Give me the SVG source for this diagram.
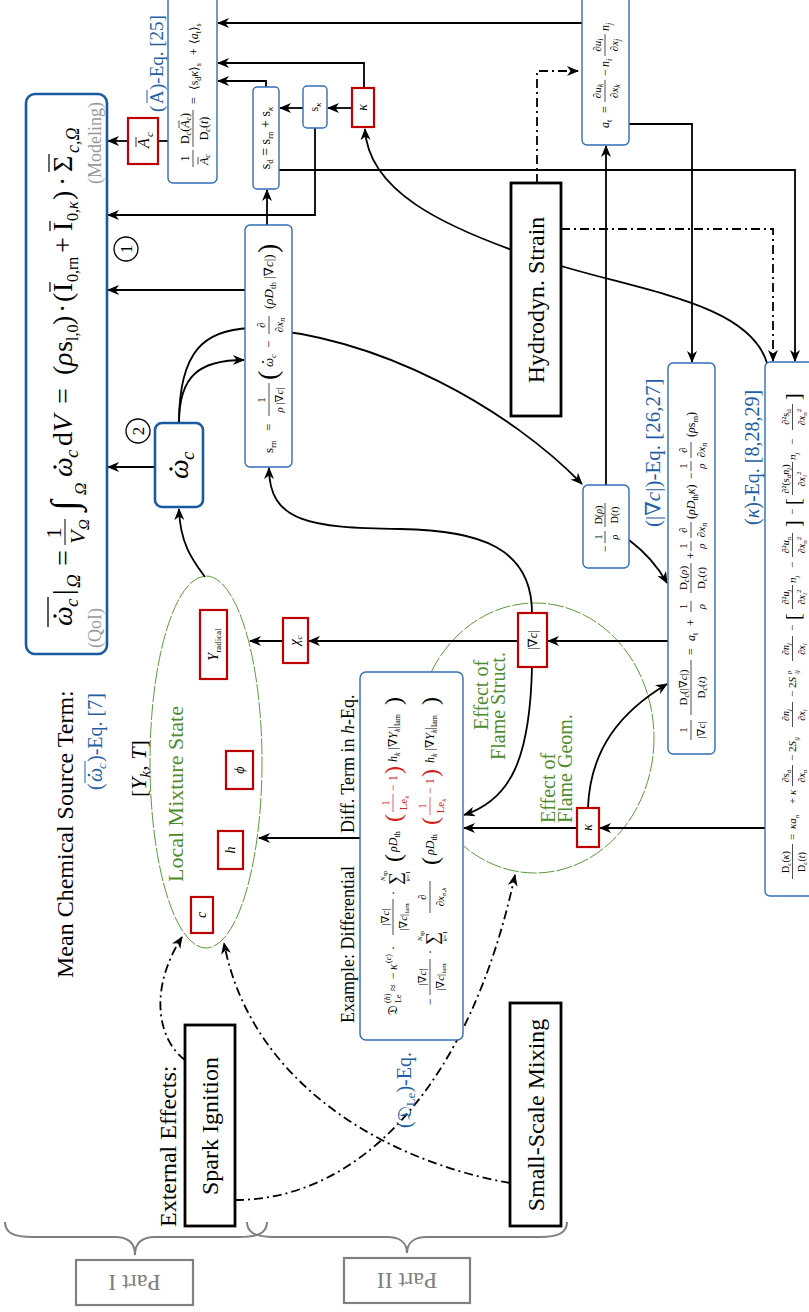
<svg xmlns="http://www.w3.org/2000/svg" width="809" height="1312" viewBox="0 0 809 1312">
<defs>
<marker id="ah" viewBox="0 0 12 10" refX="11" refY="5" markerWidth="12" markerHeight="10" markerUnits="userSpaceOnUse" orient="auto"><path d="M0,0 L12,5 L0,10 L3.5,5 z" fill="#000"/></marker>
<style>
text{font-family:"Liberation Serif","DejaVu Serif",serif;fill:#000}
.i{font-style:italic}
.blue{fill:#1f5fa6}
.gray{fill:#9a9a9a}
.green{fill:#4d8b2f}
.red{fill:#d42020}
.bx{fill:#fff;stroke:#2f6fb5;stroke-width:1.4}
.bxt{fill:#fff;stroke:#1b59a2;stroke-width:2.6}
.rb{fill:#fff;stroke:#c00000;stroke-width:2.2}
.kb{fill:#fff;stroke:#000;stroke-width:2.8}
.c{fill:none;stroke:#000;stroke-width:1.8}
.a{marker-end:url(#ah)}
.dd{stroke-dasharray:9 4 2 4}
.ell{fill:none;stroke:#5b9a3c;stroke-width:1;stroke-dasharray:16 2}
.fr{stroke:#000;stroke-width:0.7}
.frr{stroke:#d42020;stroke-width:0.7}
.brace{fill:none;stroke:#808080;stroke-width:2}
.pb{fill:#fff;stroke:#808080;stroke-width:2.2}
</style>
</defs>
<rect x="0" y="0" width="809" height="1312" fill="#fff"/>

<!-- ellipses -->
<g id="ellipse-mixture"><ellipse class="ell" cx="206" cy="762" rx="56" ry="186"/></g>
<g id="ellipse-flame"><ellipse class="ell" cx="535" cy="738" rx="119" ry="135"/></g>

<g id="connectors">
<path class="c" d="M168,141 H158"/>
<path class="c a" d="M128,141 H108"/>
<path class="c a" d="M582,23 H218"/>
<path class="c a" d="M364,88 V63 H218"/>
<path class="c a" d="M266,87 V81 H218"/>
<path class="c a" d="M352,108 H328"/>
<path class="c a" d="M303,108 H280"/>
<path class="c a" d="M315,128 V215 H108"/>
<path class="c a" d="M267,225 V190"/>
<path class="c a" d="M245,290 H108"/>
<path class="c a" d="M155,467 H108"/>
<path class="c a" d="M205,577 C194,562 180,545 179,509"/>
<path class="c a" d="M179,423 C179,375 200,360 244,360"/>
<path class="c a" d="M179,423 C179,350 205,330 250,328 C380,335 510,410 582,484"/>
<path class="c a" d="M606,485 V146"/>
<path class="c a" d="M629,540 C645,552 657,565 667,583"/>
<path class="c a" d="M629,124 H692 V362"/>
<path class="c a" d="M279,170 H795 V361"/>
<path class="c a dd" d="M537,183 V71 H578"/>
<path class="c a dd" d="M561,229 H773 V361"/>
<path class="c a" d="M767,363 C748,300 630,290 535,258 C440,226 368,190 365,129"/>
<path class="c a" d="M668,641 H548"/>
<path class="c a" d="M518,641 H309"/>
<path class="c a" d="M283,641 H250"/>
<path class="c a" d="M532,613 C532,548 480,530 400,529 C310,528 269,522 269,468"/>
<path class="c a" d="M532,667 C530,760 510,800 464,815"/>
<path class="c a" d="M765,828 H600"/>
<path class="c a" d="M577,828 H464"/>
<path class="c a" d="M588,808 C590,750 620,712 667,684"/>
<path class="c a" d="M360,838 H259"/>
<path class="c a dd" d="M185,1060 C158,1040 148,990 182,937"/>
<path class="c a dd" d="M235,1200 C360,1200 470,1085 515,875"/>
<path class="c a dd" d="M510,1183 C380,1160 250,1080 224,943"/>
</g>

<!-- QoI -->
<g id="n-qoi">
<rect class="bxt" x="26" y="94" width="81" height="560" rx="9"/>
<g transform="translate(72,628) rotate(-90)">
<text x="2" y="0" font-size="28" class="i">ω</text>
<circle cx="12" cy="-17" r="1.7"/>
<text x="21" y="6" font-size="19" class="i">c</text>
<line x1="1" y1="-24" x2="31" y2="-24" stroke="#000" stroke-width="1.3"/>
<text x="33" y="0" font-size="28">|</text>
<text x="40" y="8" font-size="19" class="i">Ω</text>
<text x="62" y="0" font-size="28">=</text>
<text x="95" y="-11" font-size="22" text-anchor="middle">1</text>
<line x1="83" y1="-7" x2="109" y2="-7" stroke="#000" stroke-width="1"/>
<text x="84" y="13" font-size="22" class="i">V</text>
<text x="98" y="17" font-size="15" class="i">Ω</text>
<text x="117" y="5" font-size="38" class="i">∫</text>
<text x="133" y="14" font-size="17" class="i">Ω</text>
<text x="151" y="0" font-size="28" class="i">ω</text>
<circle cx="161" cy="-17" r="1.7"/>
<text x="170" y="6" font-size="19" class="i">c</text>
<text x="182" y="0" font-size="28">d</text>
<text x="196" y="0" font-size="28" class="i">V</text>
<text x="224" y="0" font-size="28">=</text>
<text x="253" y="0" font-size="28">(</text>
<text x="262" y="0" font-size="28" class="i">ρ</text>
<text x="276" y="0" font-size="28">s</text>
<text x="287" y="6" font-size="16">l,0</text>
<text x="303" y="0" font-size="28">)</text>
<text x="315" y="0" font-size="28">·</text>
<text x="326" y="0" font-size="28">(</text>
<text x="336" y="0" font-size="28">I</text>
<line x1="336" y1="-22" x2="346" y2="-22" stroke="#000" stroke-width="1.2"/>
<text x="346" y="6" font-size="16">0,rn</text>
<text x="375" y="0" font-size="28">+</text>
<text x="397" y="0" font-size="28">I</text>
<line x1="397" y1="-22" x2="407" y2="-22" stroke="#000" stroke-width="1.2"/>
<text x="407" y="6" font-size="16">0,<tspan class="i">κ</tspan></text>
<text x="428" y="0" font-size="28">)</text>
<text x="442" y="0" font-size="28">·</text>
<text x="456" y="0" font-size="28">Σ</text>
<line x1="456" y1="-23" x2="474" y2="-23" stroke="#000" stroke-width="1.2"/>
<text x="475" y="7" font-size="18" class="i">c,Ω</text>
</g>
<text transform="translate(101,628) rotate(-90)" text-anchor="middle" font-size="18" class="gray">(QoI)</text>
<text transform="translate(101,143) rotate(-90)" text-anchor="middle" font-size="18" class="gray">(Modeling)</text>
</g>

<g id="circle-1"><circle cx="126" cy="249" r="12" fill="#fff" stroke="#000" stroke-width="1.3"/><text transform="translate(132,249) rotate(-90)" text-anchor="middle" font-size="17">1</text></g>
<g id="circle-2"><circle cx="138" cy="431" r="12" fill="#fff" stroke="#000" stroke-width="1.3"/><text transform="translate(144,431) rotate(-90)" text-anchor="middle" font-size="17">2</text></g>

<!-- omega dot box -->
<g id="n-omega">
<rect class="bxt" x="155" y="423" width="48" height="84" rx="7"/>
<g transform="translate(188,465) rotate(-90)">
<text x="-14" y="0" font-size="28" class="i">ω</text>
<circle cx="-4" cy="-17" r="1.7"/>
<text x="5" y="6" font-size="19" class="i">c</text>
</g>
</g>

<!-- A_c red -->
<g id="n-Ac">
<rect class="rb" x="128" y="118" width="30" height="46"/>
<g transform="translate(149,141) rotate(-90)">
<text x="-7" y="0" font-size="16" class="i">A</text>
<line x1="-6" y1="-13" x2="4" y2="-13" stroke="#000" stroke-width="0.8"/>
<text x="4" y="4" font-size="11" class="i">c</text>
</g>
</g>

<!-- A-Eq box -->
<g id="n-Aeq">
<rect class="bx" x="168" y="-10" width="49" height="193" rx="5"/>
<g transform="translate(198,168) rotate(-90)">
<text x="9.5" y="-9" text-anchor="middle" font-size="12">1</text>
<line x1="1" y1="-5" x2="18" y2="-5" class="fr"/>
<text x="3" y="10" font-size="12" class="i">A<tspan dy="2" font-size="8">c</tspan></text>
<line x1="3.5" y1="0" x2="11" y2="0" class="fr"/>
<text x="39.5" y="-9" font-size="12" text-anchor="middle">D<tspan dy="2" font-size="8" class="i">c</tspan><tspan dy="-2">(</tspan><tspan class="i">A</tspan><tspan dy="2" font-size="8" class="i">c</tspan><tspan dy="-2">)</tspan></text>
<line x1="40" y1="-19" x2="47.5" y2="-19" class="fr"/>
<line x1="21" y1="-5" x2="58" y2="-5" class="fr"/>
<text x="39.5" y="10" font-size="12" text-anchor="middle">D<tspan dy="2" font-size="8" class="i">c</tspan><tspan dy="-2">(</tspan><tspan class="i">t</tspan>)</text>
<text x="64" y="0" font-size="12">=</text>
<text x="78" y="0" font-size="12">⟨s<tspan dy="2.5" font-size="8">d</tspan><tspan dy="-2.5" class="i">κ</tspan>⟩<tspan dy="2.5" font-size="8">s</tspan></text>
<text x="113" y="0" font-size="12">+</text>
<text x="124" y="0" font-size="12">⟨<tspan class="i">a</tspan><tspan dy="2.5" font-size="8">t</tspan><tspan dy="-2.5">⟩</tspan><tspan dy="2.5" font-size="8">s</tspan></text>
</g>
<g transform="translate(163,112) rotate(-90)">
<text x="0" y="0" font-size="19" class="blue">(</text>
<text x="8" y="0" font-size="19" class="blue">A</text>
<line x1="9" y1="-16" x2="22" y2="-16" stroke="#1f5fa6" stroke-width="1"/>
<text x="22" y="0" font-size="19" class="blue">)-Eq. [25]</text>
</g>
</g>

<!-- a_t box -->
<g id="n-at">
<rect class="bx" x="582" y="-10" width="47" height="155" rx="5"/>
<g transform="translate(609,128) rotate(-90)">
<text x="0" y="0" font-size="12" class="i">a<tspan dy="3" font-size="8" font-style="normal">t</tspan></text>
<text x="15" y="0" font-size="12">=</text>
<text x="37" y="-8" font-size="11" text-anchor="middle">∂<tspan class="i">u</tspan><tspan dy="2" font-size="8" class="i">k</tspan></text>
<line x1="26" y1="-4" x2="48" y2="-4" class="fr"/>
<text x="37" y="9" font-size="11" text-anchor="middle">∂<tspan class="i">x</tspan><tspan dy="2" font-size="8" class="i">k</tspan></text>
<text x="52" y="0" font-size="12">−</text>
<text x="61" y="0" font-size="12" class="i">n<tspan dy="3" font-size="8">i</tspan></text>
<text x="83" y="-8" font-size="11" text-anchor="middle">∂<tspan class="i">u</tspan><tspan dy="2" font-size="8" class="i">i</tspan></text>
<line x1="72" y1="-4" x2="94" y2="-4" class="fr"/>
<text x="83" y="9" font-size="11" text-anchor="middle">∂<tspan class="i">x</tspan><tspan dy="2" font-size="8" class="i">j</tspan></text>
<text x="97" y="0" font-size="12" class="i">n<tspan dy="3" font-size="8">j</tspan></text>
</g>
</g>

<!-- s_d, s_kappa, kappa -->
<g id="n-sd">
<rect class="bx" x="253" y="87" width="26" height="102" rx="4"/>
<text transform="translate(270,138) rotate(-90)" text-anchor="middle" font-size="14">s<tspan dy="3" font-size="9">d</tspan><tspan dy="-3"> = s</tspan><tspan dy="3" font-size="9">rn</tspan><tspan dy="-3"> + s</tspan><tspan dy="3" font-size="9" class="i">κ</tspan></text>
</g>
<g id="n-skappa">
<rect class="bx" x="303" y="86" width="24" height="42" rx="4"/>
<text transform="translate(318,107) rotate(-90)" text-anchor="middle" font-size="12">s<tspan dy="3" font-size="9" class="i">κ</tspan></text>
</g>
<g id="n-kappa-top">
<rect class="rb" x="352" y="88" width="22" height="39"/>
<text transform="translate(367,107.5) rotate(-90)" text-anchor="middle" font-size="14" class="i">κ</text>
</g>

<!-- s_rn box -->
<g id="n-srn">
<rect class="bx" x="245" y="225" width="47" height="242" rx="5"/>
<g transform="translate(273,453) rotate(-90)">
<text x="0" y="0" font-size="13">s<tspan dy="3" font-size="9">rn</tspan></text>
<text x="22" y="0" font-size="13">=</text>
<text x="53" y="-8" font-size="11" text-anchor="middle">1</text>
<line x1="37" y1="-4" x2="70" y2="-4" class="fr"/>
<text x="53" y="10" font-size="11" text-anchor="middle"><tspan class="i">ρ</tspan> |∇<tspan class="i">c</tspan>|</text>
<text x="73" y="4" font-size="28">(</text>
<text x="86" y="0" font-size="13" class="i">ω</text>
<circle cx="91" cy="-10" r="1"/>
<text x="95" y="3" font-size="9" class="i">c</text>
<text x="105" y="0" font-size="13">−</text>
<text x="128" y="-8" font-size="11" text-anchor="middle">∂</text>
<line x1="119" y1="-4" x2="137" y2="-4" class="fr"/>
<text x="128" y="10" font-size="11" text-anchor="middle">∂<tspan class="i">x</tspan><tspan dy="2" font-size="8" class="i">n</tspan></text>
<text x="144" y="0" font-size="13">(<tspan class="i">ρD</tspan><tspan dy="3" font-size="9">th</tspan><tspan dy="-3"> |∇</tspan><tspan class="i">c</tspan>|)</text>
<text x="200" y="4" font-size="28">)</text>
</g>
</g>

<!-- D(rho) box -->
<g id="n-Drho">
<rect class="bx" x="583" y="485" width="46" height="83" rx="5"/>
<g transform="translate(609,552) rotate(-90)">
<text x="0" y="0" font-size="12">−</text>
<text x="15" y="-7" font-size="10" text-anchor="middle">1</text>
<line x1="9" y1="-4" x2="21" y2="-4" class="fr"/>
<text x="15" y="9" font-size="10" text-anchor="middle" class="i">ρ</text>
<text x="37" y="-7" font-size="10" text-anchor="middle">D(<tspan class="i">ρ</tspan>)</text>
<line x1="25" y1="-4" x2="49" y2="-4" class="fr"/>
<text x="37" y="9" font-size="10" text-anchor="middle">D(<tspan class="i">t</tspan>)</text>
</g>
</g>

<!-- grad c equation box -->
<g id="n-gradc-eq">
<rect class="bx" x="668" y="363" width="47" height="391" rx="5"/>
<g transform="translate(695,742) rotate(-90)">
<text x="12" y="-8" font-size="11" text-anchor="middle">1</text>
<line x1="2" y1="-4" x2="22" y2="-4" class="fr"/>
<text x="12" y="10" font-size="11" text-anchor="middle">|∇<tspan class="i">c</tspan>|</text>
<text x="54.5" y="-8" font-size="11" text-anchor="middle">D<tspan dy="2" font-size="8" class="i">c</tspan><tspan dy="-2">(|∇</tspan><tspan class="i">c</tspan>|)</text>
<line x1="27" y1="-4" x2="82" y2="-4" class="fr"/>
<text x="54.5" y="10" font-size="11" text-anchor="middle">D<tspan dy="2" font-size="8" class="i">c</tspan><tspan dy="-2">(</tspan><tspan class="i">t</tspan>)</text>
<text x="87" y="0" font-size="12">=</text>
<text x="101" y="0" font-size="12" class="i">a<tspan dy="3" font-size="8" font-style="normal">t</tspan></text>
<text x="116" y="0" font-size="12">+</text>
<text x="135.5" y="-8" font-size="11" text-anchor="middle">1</text>
<line x1="130" y1="-4" x2="141" y2="-4" class="fr"/>
<text x="135.5" y="10" font-size="11" text-anchor="middle" class="i">ρ</text>
<text x="164" y="-8" font-size="11" text-anchor="middle">D<tspan dy="2" font-size="8" class="i">c</tspan><tspan dy="-2">(</tspan><tspan class="i">ρ</tspan>)</text>
<line x1="149" y1="-4" x2="179" y2="-4" class="fr"/>
<text x="164" y="10" font-size="11" text-anchor="middle">D<tspan dy="2" font-size="8" class="i">c</tspan><tspan dy="-2">(</tspan><tspan class="i">t</tspan>)</text>
<text x="183" y="0" font-size="12">+</text>
<text x="196" y="-8" font-size="11" text-anchor="middle">1</text>
<line x1="191" y1="-4" x2="201" y2="-4" class="fr"/>
<text x="196" y="10" font-size="11" text-anchor="middle" class="i">ρ</text>
<text x="212" y="-8" font-size="11" text-anchor="middle">∂</text>
<line x1="204" y1="-4" x2="220" y2="-4" class="fr"/>
<text x="212" y="10" font-size="11" text-anchor="middle">∂<tspan class="i">x</tspan><tspan dy="2" font-size="8" class="i">n</tspan></text>
<text x="223" y="0" font-size="12">(<tspan class="i">ρD</tspan><tspan dy="3" font-size="8">th</tspan><tspan dy="-3" class="i">κ</tspan>)</text>
<text x="263" y="0" font-size="12">−</text>
<text x="276" y="-8" font-size="11" text-anchor="middle">1</text>
<line x1="271" y1="-4" x2="281" y2="-4" class="fr"/>
<text x="276" y="10" font-size="11" text-anchor="middle" class="i">ρ</text>
<text x="292" y="-8" font-size="11" text-anchor="middle">∂</text>
<line x1="284" y1="-4" x2="300" y2="-4" class="fr"/>
<text x="292" y="10" font-size="11" text-anchor="middle">∂<tspan class="i">x</tspan><tspan dy="2" font-size="8" class="i">n</tspan></text>
<text x="305" y="0" font-size="12">(<tspan class="i">ρ</tspan>s<tspan dy="3" font-size="8">rn</tspan><tspan dy="-3">)</tspan></text>
</g>
<text transform="translate(660,527) rotate(-90)" font-size="21" class="blue">(|∇<tspan class="i">c</tspan>|)-Eq. [26,27]</text>
</g>

<!-- kappa equation box -->
<g id="n-kappa-eq">
<rect class="bx" x="765" y="362" width="56" height="534" rx="5"/>
<g transform="translate(796,882) rotate(-90)">
<text x="20" y="-7" font-size="10" text-anchor="middle">D<tspan dy="2" font-size="7" class="i">c</tspan><tspan dy="-2">(</tspan><tspan class="i">κ</tspan>)</text>
<line x1="3" y1="-3.5" x2="38" y2="-3.5" class="fr"/>
<text x="20" y="9" font-size="10" text-anchor="middle">D<tspan dy="2" font-size="7" class="i">c</tspan><tspan dy="-2">(</tspan><tspan class="i">t</tspan>)</text>
<text x="42" y="0" font-size="11">=</text>
<text x="53" y="0" font-size="11" class="i">κa<tspan dy="3" font-size="7" font-style="normal">n</tspan></text>
<text x="78" y="0" font-size="11">+</text>
<text x="87" y="0" font-size="11" class="i">κ</text>
<text x="106" y="-7" font-size="10" text-anchor="middle">∂s<tspan dy="2" font-size="7">d</tspan></text>
<line x1="96" y1="-3.5" x2="117" y2="-3.5" class="fr"/>
<text x="106" y="9" font-size="10" text-anchor="middle">∂<tspan class="i">x</tspan><tspan dy="2" font-size="7">n</tspan></text>
<text x="121" y="0" font-size="11">−</text>
<text x="130" y="0" font-size="11">2<tspan class="i">S</tspan><tspan dy="3" font-size="7" class="i">ij</tspan></text>
<text x="167" y="-7" font-size="10" text-anchor="middle">∂<tspan class="i">n</tspan><tspan dy="2" font-size="7" class="i">j</tspan></text>
<line x1="155" y1="-3.5" x2="180" y2="-3.5" class="fr"/>
<text x="167" y="9" font-size="10" text-anchor="middle">∂<tspan class="i">x</tspan><tspan dy="2" font-size="7" class="i">i</tspan></text>
<text x="185" y="0" font-size="11">−</text>
<text x="194" y="0" font-size="11">2<tspan class="i">S</tspan></text>
<text x="208" y="-5" font-size="7">p</text>
<text x="208" y="3" font-size="7" class="i">ij</text>
<text x="233" y="-7" font-size="10" text-anchor="middle">∂<tspan class="i">n</tspan><tspan dy="2" font-size="7" class="i">j</tspan></text>
<line x1="221" y1="-3.5" x2="246" y2="-3.5" class="fr"/>
<text x="233" y="9" font-size="10" text-anchor="middle">∂<tspan class="i">x</tspan><tspan dy="2" font-size="7" class="i">i</tspan></text>
<text x="251" y="0" font-size="11">−</text>
<text x="262" y="4" font-size="20">[</text>
<text x="285" y="-7" font-size="10" text-anchor="middle">∂²<tspan class="i">u</tspan><tspan dy="2" font-size="7" class="i">j</tspan></text>
<line x1="273" y1="-3.5" x2="297" y2="-3.5" class="fr"/>
<text x="285" y="9" font-size="10" text-anchor="middle">∂<tspan class="i">x</tspan><tspan dy="2" font-size="7" class="i">i</tspan><tspan dy="-6" font-size="7">2</tspan></text>
<text x="299" y="0" font-size="11" class="i">n<tspan dy="3" font-size="7">j</tspan></text>
<text x="314" y="0" font-size="11">−</text>
<text x="337" y="-7" font-size="10" text-anchor="middle">∂²<tspan class="i">u</tspan><tspan dy="2" font-size="7">n</tspan></text>
<line x1="325" y1="-3.5" x2="349" y2="-3.5" class="fr"/>
<text x="337" y="9" font-size="10" text-anchor="middle">∂<tspan class="i">x</tspan><tspan dy="2" font-size="7">n</tspan><tspan dy="-6" font-size="7">2</tspan></text>
<text x="355" y="4" font-size="20">]</text>
<text x="367" y="0" font-size="11">−</text>
<text x="377" y="4" font-size="20">[</text>
<text x="403" y="-7" font-size="10" text-anchor="middle">∂²(s<tspan dy="2" font-size="7">d</tspan><tspan dy="-2" class="i">n</tspan><tspan dy="2" font-size="7" class="i">j</tspan><tspan dy="-2">)</tspan></text>
<line x1="387" y1="-3.5" x2="420" y2="-3.5" class="fr"/>
<text x="403" y="9" font-size="10" text-anchor="middle">∂<tspan class="i">x</tspan><tspan dy="2" font-size="7" class="i">i</tspan><tspan dy="-6" font-size="7">2</tspan></text>
<text x="422" y="0" font-size="11" class="i">n<tspan dy="3" font-size="7">j</tspan></text>
<text x="437" y="0" font-size="11">−</text>
<text x="465" y="-7" font-size="10" text-anchor="middle">∂²s<tspan dy="2" font-size="7">d</tspan></text>
<line x1="452" y1="-3.5" x2="478" y2="-3.5" class="fr"/>
<text x="465" y="9" font-size="10" text-anchor="middle">∂<tspan class="i">x</tspan><tspan dy="2" font-size="7">n</tspan><tspan dy="-6" font-size="7">2</tspan></text>
<text x="482" y="4" font-size="20">]</text>
</g>
<text transform="translate(759,525) rotate(-90)" font-size="20" class="blue">(<tspan class="i">κ</tspan>)-Eq. [8,28,29]</text>
</g>

<!-- Le box -->
<g id="n-Le">
<rect class="bx" x="360" y="672" width="103" height="368" rx="6"/>
<g transform="translate(397,1015) rotate(-90)">
<text x="0" y="0" font-size="13">𝔇</text>
<text x="12" y="-7" font-size="8">(<tspan class="i">h</tspan>)</text>
<text x="12" y="4" font-size="8">Le</text>
<text x="24" y="0" font-size="12">≈</text>
<text x="36" y="0" font-size="12">−</text>
<text x="45" y="0" font-size="12" class="i">κ</text>
<text x="52" y="-6" font-size="8">(<tspan class="i">c</tspan>)</text>
<text x="65" y="0" font-size="12">·</text>
<text x="98" y="-8" font-size="11" text-anchor="middle">|∇<tspan class="i">c</tspan>|</text>
<line x1="80" y1="-4" x2="116" y2="-4" class="fr"/>
<text x="98" y="10" font-size="11" text-anchor="middle">|∇<tspan class="i">c</tspan>|<tspan dy="2" font-size="7">lam</tspan></text>
<text x="120" y="0" font-size="12">·</text>
<text x="130" y="4" font-size="18">∑</text>
<text x="139" y="-12" font-size="7" text-anchor="middle" class="i">N<tspan font-style="normal" dy="1.5" font-size="6">sp</tspan></text>
<text x="139" y="13" font-size="7" text-anchor="middle"><tspan class="i">k</tspan>=1</text>
<text x="153" y="4" font-size="24">(</text>
<text x="163" y="0" font-size="12" class="i">ρD<tspan dy="3" font-size="8" font-style="normal">th</tspan></text>
<text x="193" y="4" font-size="24" class="red">(</text>
<text x="212" y="-8" font-size="11" text-anchor="middle" class="red">1</text>
<line x1="203" y1="-4" x2="221" y2="-4" class="frr"/>
<text x="212" y="10" font-size="11" text-anchor="middle" class="red">Le<tspan dy="2" font-size="7" class="i">k</tspan></text>
<text x="224" y="0" font-size="12" class="red">− 1</text>
<text x="241" y="4" font-size="24" class="red">)</text>
<text x="253" y="0" font-size="12"><tspan class="i">h</tspan><tspan dy="3" font-size="8" class="i">k</tspan><tspan dy="-3"> |∇</tspan><tspan class="i">Y</tspan><tspan dy="3" font-size="8" class="i">k</tspan><tspan dy="-3">|</tspan><tspan dy="3" font-size="8">lam</tspan></text>
<text x="310" y="4" font-size="24">)</text>
</g>
<g transform="translate(434,1005) rotate(-90)">
<text x="0" y="0" font-size="12">−</text>
<text x="28" y="-8" font-size="11" text-anchor="middle">|∇<tspan class="i">c</tspan>|</text>
<line x1="10" y1="-4" x2="46" y2="-4" class="fr"/>
<text x="28" y="10" font-size="11" text-anchor="middle">|∇<tspan class="i">c</tspan>|<tspan dy="2" font-size="7">lam</tspan></text>
<text x="51" y="0" font-size="12">·</text>
<text x="60" y="4" font-size="18">∑</text>
<text x="69" y="-12" font-size="7" text-anchor="middle" class="i">N<tspan font-style="normal" dy="1.5" font-size="6">sp</tspan></text>
<text x="69" y="13" font-size="7" text-anchor="middle"><tspan class="i">k</tspan>=1</text>
<text x="108" y="-8" font-size="11" text-anchor="middle">∂</text>
<line x1="92" y1="-4" x2="124" y2="-4" class="fr"/>
<text x="108" y="10" font-size="11" text-anchor="middle">∂<tspan class="i">x</tspan><tspan dy="2" font-size="7" class="i">n,k</tspan></text>
<text x="140" y="4" font-size="24">(</text>
<text x="150" y="0" font-size="12" class="i">ρD<tspan dy="3" font-size="8" font-style="normal">th</tspan></text>
<text x="180" y="4" font-size="24" class="red">(</text>
<text x="199" y="-8" font-size="11" text-anchor="middle" class="red">1</text>
<line x1="190" y1="-4" x2="208" y2="-4" class="frr"/>
<text x="199" y="10" font-size="11" text-anchor="middle" class="red">Le<tspan dy="2" font-size="7" class="i">k</tspan></text>
<text x="211" y="0" font-size="12" class="red">− 1</text>
<text x="228" y="4" font-size="24" class="red">)</text>
<text x="242" y="0" font-size="12"><tspan class="i">h</tspan><tspan dy="3" font-size="8" class="i">k</tspan><tspan dy="-3"> |∇</tspan><tspan class="i">Y</tspan><tspan dy="3" font-size="8" class="i">k</tspan><tspan dy="-3">|</tspan><tspan dy="3" font-size="8">lam</tspan></text>
<text x="300" y="4" font-size="24">)</text>
</g>
</g>

<!-- mixture state members -->
<g id="n-Yrad"><rect class="rb" x="200" y="610" width="27" height="69"/>
<text transform="translate(218,644.5) rotate(-90)" text-anchor="middle" font-size="14"><tspan class="i">Y</tspan><tspan dy="3" font-size="9">radical</tspan></text></g>
<g id="n-phi"><rect class="rb" x="226" y="751" width="27" height="38"/>
<text transform="translate(244,770) rotate(-90)" text-anchor="middle" font-size="14" class="i">ϕ</text></g>
<g id="n-h"><rect class="rb" x="218" y="831" width="25" height="38"/>
<text transform="translate(235,850) rotate(-90)" text-anchor="middle" font-size="14" class="i">h</text></g>
<g id="n-c"><rect class="rb" x="191" y="897" width="22" height="36"/>
<text transform="translate(206,915) rotate(-90)" text-anchor="middle" font-size="14" class="i">c</text></g>
<g id="n-chi"><rect class="rb" x="283" y="618" width="25" height="45"/>
<text transform="translate(299,640.5) rotate(-90)" text-anchor="middle" font-size="14"><tspan class="i">χ</tspan><tspan dy="3" font-size="9" class="i">c</tspan></text></g>
<g id="n-gradc"><rect class="rb" x="518" y="613" width="29" height="54"/>
<text transform="translate(537,640) rotate(-90)" text-anchor="middle" font-size="13">|∇<tspan class="i">c</tspan>|</text></g>
<g id="n-kappa-low"><rect class="rb" x="577" y="808" width="22" height="39"/>
<text transform="translate(592,827.5) rotate(-90)" text-anchor="middle" font-size="14" class="i">κ</text></g>

<!-- black boxes -->
<g id="n-hydro"><rect class="kb" x="511" y="183" width="50" height="233"/>
<text transform="translate(544,300) rotate(-90)" text-anchor="middle" font-size="24">Hydrodyn. Strain</text></g>
<g id="n-spark"><rect class="kb" x="185" y="1025" width="50" height="201"/>
<text transform="translate(218,1126) rotate(-90)" text-anchor="middle" font-size="24">Spark Ignition</text></g>
<g id="n-mixing"><rect class="kb" x="510" y="1003" width="51" height="223"/>
<text transform="translate(544,1115) rotate(-90)" text-anchor="middle" font-size="24">Small-Scale Mixing</text></g>

<!-- labels -->
<g id="labels">
<text transform="translate(73,978) rotate(-90)" font-size="24">Mean Chemical Source Term:</text>
<g transform="translate(102,790) rotate(-90)">
<text x="0" y="0" font-size="20" class="blue">(</text>
<text x="8" y="0" font-size="20" class="blue i">ω</text>
<circle cx="15" cy="-13" r="1.3" fill="#1f5fa6"/>
<line x1="7" y1="-17" x2="29" y2="-17" stroke="#1f5fa6" stroke-width="1"/>
<text x="21" y="4" font-size="13" class="blue i">c</text>
<text x="28" y="0" font-size="20" class="blue">)-Eq. [7]</text>
</g>
<text transform="translate(146,797) rotate(-90)" font-size="22">[<tspan class="i">Y</tspan><tspan dy="4" font-size="15" class="i">k</tspan><tspan dy="-4">, </tspan><tspan class="i">T</tspan>]</text>
<text transform="translate(183,882) rotate(-90)" font-size="22" class="green">Local Mixture State</text>
<text transform="translate(488,695) rotate(-90)" text-anchor="middle" font-size="20" class="green">Effect of</text>
<text transform="translate(505,706) rotate(-90)" text-anchor="middle" font-size="20" class="green">Flame Struct.</text>
<text transform="translate(555,823) rotate(-90)" font-size="20" class="green">Effect of</text>
<text transform="translate(572,823) rotate(-90)" font-size="20" class="green">Flame Geom.</text>
<text transform="translate(354,1023) rotate(-90)" font-size="18">Example: Differential</text>
<text transform="translate(354,833) rotate(-90)" font-size="18">Diff. Term in <tspan class="i">h</tspan>-Eq.</text>
<text transform="translate(411,1128) rotate(-90)" font-size="20" class="blue">(𝔇<tspan dy="4" font-size="13">Le</tspan><tspan dy="-4">)-Eq.</tspan></text>
<text transform="translate(176,1227) rotate(-90)" font-size="24">External Effects:</text>
</g>

<!-- parts -->
<g id="part-1">
<path class="brace" d="M5,1222 C5,1233 14,1237 32,1237 L115,1237 C128,1237 135,1243 135,1255 C135,1243 142,1237 155,1237 L240,1237 C258,1237 267,1233 267,1222"/>
<rect class="pb" x="76" y="1260" width="117" height="45"/>
<text transform="translate(134.5,1282.5) rotate(180)" text-anchor="middle" y="8" font-size="24" style="fill:#808080">Part I</text>
</g>
<g id="part-2">
<path class="brace" d="M247,1222 C247,1233 256,1237 274,1237 L387,1237 C400,1237 407,1243 407,1253 C407,1243 414,1237 427,1237 L540,1237 C558,1237 567,1233 567,1222"/>
<rect class="pb" x="344" y="1258" width="126" height="45"/>
<text transform="translate(407,1280.5) rotate(180)" text-anchor="middle" y="8" font-size="24" style="fill:#808080">Part II</text>
</g>
</svg>
